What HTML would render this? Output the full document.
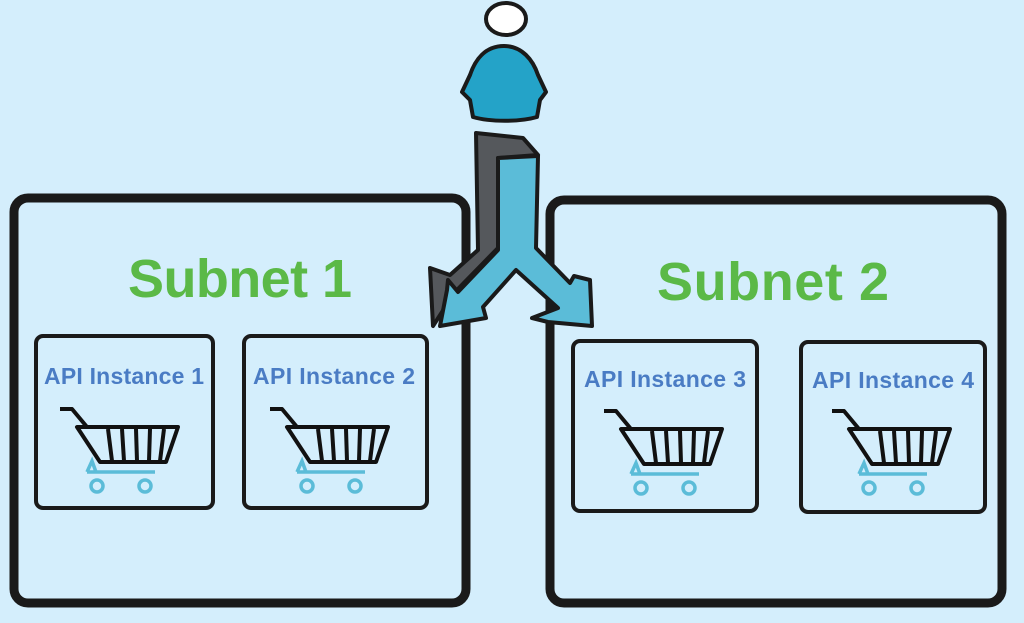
<!DOCTYPE html>
<html><head><meta charset="utf-8"><style>
html,body{margin:0;padding:0;background:#d4eefc;}
svg{display:block}
text{font-family:"Liberation Sans",sans-serif;font-weight:bold}
</style></head><body>
<svg width="1024" height="623" viewBox="0 0 1024 623" xmlns="http://www.w3.org/2000/svg">
<defs>
<g id="cart">
 <path d="M0 0 H12 L27 18" fill="none" stroke="#111" stroke-width="4" stroke-linejoin="round"/>
 <path d="M17 18 H118 L106 53 H40 Z" fill="none" stroke="#111" stroke-width="4" stroke-linejoin="round"/>
 <path d="M48 20 L52 52 M62 20 L64 52 M76 20 L77 52 M90 20 L89 52 M104 20 L100 52" stroke="#111" stroke-width="4"/>
 <path d="M27 63 H95 M27 63 L32 52 L36 63" fill="none" stroke="#5bbcd8" stroke-width="3.5"/>
 <circle cx="37" cy="77" r="6" fill="none" stroke="#5bbcd8" stroke-width="3.5"/>
 <circle cx="85" cy="77" r="6" fill="none" stroke="#5bbcd8" stroke-width="3.5"/>
</g>
</defs>
<rect x="14" y="198" width="452" height="405" rx="14" fill="none" stroke="#1a1a1a" stroke-width="9"/>
<rect x="550" y="200" width="452" height="403" rx="14" fill="none" stroke="#1a1a1a" stroke-width="9"/>
<text x="240" y="297" font-size="54" fill="#5bb947" text-anchor="middle" textLength="224">Subnet 1</text>
<text x="773" y="300" font-size="54" fill="#5bb947" text-anchor="middle" textLength="232">Subnet 2</text>
<g fill="none" stroke="#1a1a1a" stroke-width="4">
<rect x="36" y="336" width="177" height="172" rx="7"/>
<rect x="244" y="336" width="183" height="172" rx="7"/>
<rect x="573" y="341" width="184" height="170" rx="7"/>
<rect x="801" y="342" width="184" height="170" rx="7"/>
</g>
<g font-size="23" fill="#4a7cc4" text-anchor="middle">
<text x="124" y="384" textLength="160">API Instance 1</text>
<text x="334" y="384" textLength="162">API Instance 2</text>
<text x="665" y="387" textLength="162">API Instance 3</text>
<text x="893" y="388" textLength="162">API Instance 4</text>
</g>
<use href="#cart" x="60" y="409"/>
<use href="#cart" x="270" y="409"/>
<use href="#cart" x="604" y="411"/>
<use href="#cart" x="832" y="411"/>
<ellipse cx="506" cy="19" rx="20" ry="16" fill="#fff" stroke="#1a1a1a" stroke-width="4"/>
<path d="M504 46 C485 46 475 60 470 75 L462 92 L470 100 L473 117 C490 122 520 122 537 117 L540 100 L546 92 L538 75 C533 60 522 46 504 46 Z" fill="#24a3c8" stroke="#1a1a1a" stroke-width="4" stroke-linejoin="round"/>
<path d="M476 133 L523 138 L538 155 L498 158 L498 248 L455 292 L433 326 L430 268 L450 275 L478 250 Z" fill="#55585c" stroke="#1a1a1a" stroke-width="4" stroke-linejoin="round"/>
<path d="M498 158 L538 156 L536 248 L570 283 L574 276 L590 280 L592 326 L548 322 L532 318 L558 308 L516 270 L483 307 L486 318 L440 326 L447 290 L448 280 L458 292 L498 250 Z" fill="#5bbcd8" stroke="#1a1a1a" stroke-width="4" stroke-linejoin="round"/>
</svg>
</body></html>
